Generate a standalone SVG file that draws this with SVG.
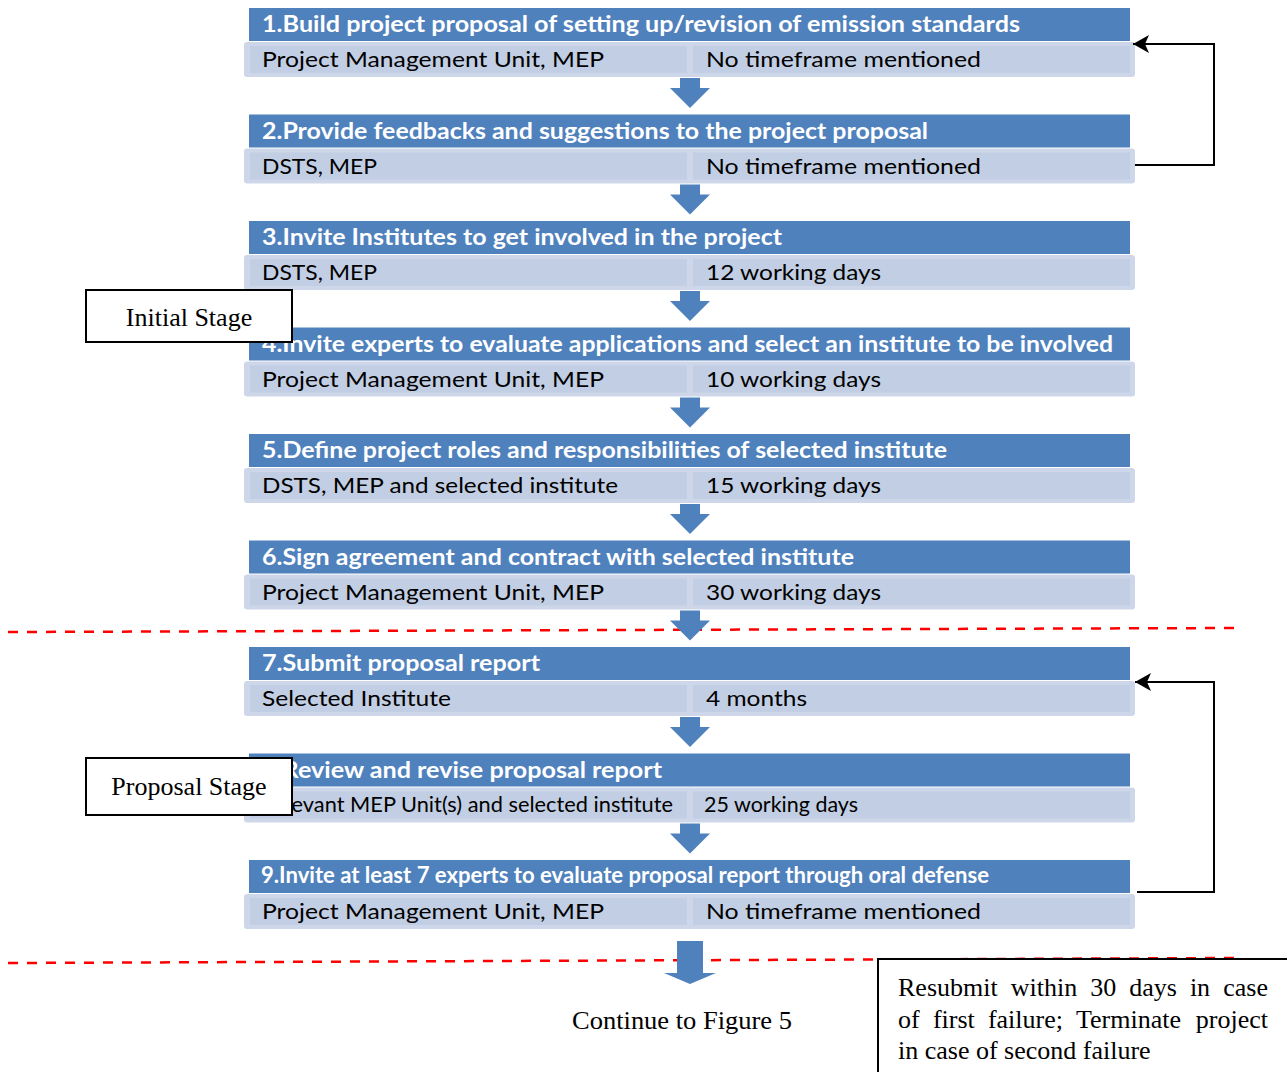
<svg xmlns="http://www.w3.org/2000/svg" width="1287" height="1072" viewBox="0 0 1287 1072">
<style>
.hd{fill:#4f81bd}
.bo{fill:#cdd7e9}
.bi{fill:#c2cee3}
.ht{font-family:Lato,"Open Sans","Liberation Sans",sans-serif;font-weight:bold;font-size:22px;fill:#ffffff}
.bt{font-family:Lato,"Open Sans","Liberation Sans",sans-serif;font-size:22px;fill:#000000}
.ar{fill:#4f81bd}
.red{stroke:#ff0000;stroke-width:2.5;stroke-dasharray:10 9;fill:none}
.fb{stroke:#000;stroke-width:2;fill:none}
.lb{fill:#fff;stroke:#000;stroke-width:2}
.tm{font-family:"Liberation Serif","Times New Roman",serif;font-size:26px;fill:#000}
</style>
<defs>
<g id="blk">
<rect class="hd" x="249" y="0" width="881" height="33"/>
<rect class="bo" x="244" y="34" width="891" height="35" rx="3"/>
<rect class="bi" x="250" y="38" width="437" height="27"/>
<rect class="bi" x="693" y="38" width="437" height="27"/>
</g>
<marker id="ah" viewBox="0 0 16 18" refX="16" refY="9" markerWidth="16" markerHeight="18" markerUnits="userSpaceOnUse" orient="auto">
<path d="M0,0 L16,9 L0,18 L4,9 Z" fill="#000"/>
</marker>
</defs>

<g id="dividers">
<line class="red" x1="8" y1="632" x2="1235" y2="628"/>
<line class="red" x1="8" y1="963" x2="1235" y2="958"/>
</g>

<g id="node1" transform="translate(0,8)">
<use href="#blk"/>
<text class="ht" x="262" y="24" textLength="758" lengthAdjust="spacingAndGlyphs">1.Build project proposal of setting up/revision of emission standards</text>
<text class="bt" x="262" y="59" textLength="342" lengthAdjust="spacingAndGlyphs">Project Management Unit, MEP</text>
<text class="bt" x="706" y="59" textLength="275" lengthAdjust="spacingAndGlyphs">No timeframe mentioned</text>
</g>
<g id="node2" transform="translate(0,114.5)">
<use href="#blk"/>
<text class="ht" x="262" y="24" textLength="666" lengthAdjust="spacingAndGlyphs">2.Provide feedbacks and suggestions to the project proposal</text>
<text class="bt" x="262" y="59" textLength="115" lengthAdjust="spacingAndGlyphs">DSTS, MEP</text>
<text class="bt" x="706" y="59" textLength="275" lengthAdjust="spacingAndGlyphs">No timeframe mentioned</text>
</g>
<g id="node3" transform="translate(0,221)">
<use href="#blk"/>
<text class="ht" x="262" y="24" textLength="520" lengthAdjust="spacingAndGlyphs">3.Invite Institutes to get involved in the project</text>
<text class="bt" x="262" y="59" textLength="115" lengthAdjust="spacingAndGlyphs">DSTS, MEP</text>
<text class="bt" x="706" y="59" textLength="175" lengthAdjust="spacingAndGlyphs">12 working days</text>
</g>
<g id="node4" transform="translate(0,327.5)">
<use href="#blk"/>
<text class="ht" x="262" y="24" textLength="851" lengthAdjust="spacingAndGlyphs">4.Invite experts to evaluate applications and select an institute to be involved</text>
<text class="bt" x="262" y="59" textLength="342" lengthAdjust="spacingAndGlyphs">Project Management Unit, MEP</text>
<text class="bt" x="706" y="59" textLength="175" lengthAdjust="spacingAndGlyphs">10 working days</text>
</g>
<g id="node5" transform="translate(0,434)">
<use href="#blk"/>
<text class="ht" x="262" y="24" textLength="685" lengthAdjust="spacingAndGlyphs">5.Define project roles and responsibilities of selected institute</text>
<text class="bt" x="262" y="59" textLength="356" lengthAdjust="spacingAndGlyphs">DSTS, MEP and selected institute</text>
<text class="bt" x="706" y="59" textLength="175" lengthAdjust="spacingAndGlyphs">15 working days</text>
</g>
<g id="node6" transform="translate(0,540.5)">
<use href="#blk"/>
<text class="ht" x="262" y="24" textLength="592" lengthAdjust="spacingAndGlyphs">6.Sign agreement and contract with selected institute</text>
<text class="bt" x="262" y="59" textLength="342" lengthAdjust="spacingAndGlyphs">Project Management Unit, MEP</text>
<text class="bt" x="706" y="59" textLength="175" lengthAdjust="spacingAndGlyphs">30 working days</text>
</g>
<g id="node7" transform="translate(0,647)">
<use href="#blk"/>
<text class="ht" x="262" y="24" textLength="278" lengthAdjust="spacingAndGlyphs">7.Submit proposal report</text>
<text class="bt" x="262" y="59" textLength="189" lengthAdjust="spacingAndGlyphs">Selected Institute</text>
<text class="bt" x="706" y="59" textLength="101" lengthAdjust="spacingAndGlyphs">4 months</text>
</g>
<g id="node8" transform="translate(0,753.5)">
<use href="#blk"/>
<text class="ht" x="262" y="24" textLength="400" lengthAdjust="spacingAndGlyphs">8.Review and revise proposal report</text>
<text class="bt" x="262" y="58" font-size="19" textLength="411" lengthAdjust="spacingAndGlyphs">Relevant MEP Unit(s) and selected institute</text>
<text class="bt" x="704" y="58" font-size="19" textLength="154" lengthAdjust="spacingAndGlyphs">25 working days</text>
</g>
<g id="node9" transform="translate(0,860)">
<use href="#blk"/>
<text class="ht" x="261" y="23" font-size="19" textLength="728" lengthAdjust="spacingAndGlyphs">9.Invite at least 7 experts to evaluate proposal report through oral defense</text>
<text class="bt" x="262" y="59" textLength="342" lengthAdjust="spacingAndGlyphs">Project Management Unit, MEP</text>
<text class="bt" x="706" y="59" textLength="275" lengthAdjust="spacingAndGlyphs">No timeframe mentioned</text>
</g>

<g id="connectors">
<g id="flow-arrows">
<path class="ar" d="M680,78 H700 V88 H710 L690,108 L670,88 H680 Z"/>
<path class="ar" d="M680,184.5 H700 V194.5 H710 L690,214.5 L670,194.5 H680 Z"/>
<path class="ar" d="M680,291 H700 V301 H710 L690,321 L670,301 H680 Z"/>
<path class="ar" d="M680,397.5 H700 V407.5 H710 L690,427.5 L670,407.5 H680 Z"/>
<path class="ar" d="M680,504 H700 V514 H710 L690,534 L670,514 H680 Z"/>
<path class="ar" d="M680,610.5 H700 V620.5 H710 L690,640.5 L670,620.5 H680 Z"/>
<path class="ar" d="M680,717 H700 V727 H710 L690,747 L670,727 H680 Z"/>
<path class="ar" d="M680,823.5 H700 V833.5 H710 L690,853.5 L670,833.5 H680 Z"/>
<path class="ar" d="M677,941 H703 V973 H716 L690,984 L664,973 H677 Z"/>
</g>
<path class="fb" d="M1135,165 H1214 V44 H1133" marker-end="url(#ah)"/>
<path class="fb" d="M1137,892 H1214 V682 H1135" marker-end="url(#ah)"/>
</g>

<g id="label-initial">
<rect class="lb" x="86" y="290" width="206" height="52"/>
<text class="tm" x="189" y="326" text-anchor="middle">Initial Stage</text>
</g>
<g id="label-proposal">
<rect class="lb" x="86" y="758" width="206" height="57"/>
<text class="tm" x="189" y="795" text-anchor="middle">Proposal Stage</text>
</g>
<g id="continue">
<text class="tm" x="572" y="1029" textLength="220" lengthAdjust="spacingAndGlyphs">Continue to Figure 5</text>
</g>
<g id="note">
<path d="M878,1073 V959 H1290" fill="#fff" stroke="#000" stroke-width="2"/>
<text class="tm" y="996"><tspan x="898">Resubmit</tspan><tspan x="1010.7">within</tspan><tspan x="1090.2">30</tspan><tspan x="1129.2">days</tspan><tspan x="1189.9">in</tspan><tspan x="1268" text-anchor="end">case</tspan></text>
<text class="tm" y="1028"><tspan x="898">of</tspan><tspan x="932.9">first</tspan><tspan x="987.9">failure;</tspan><tspan x="1076">Terminate</tspan><tspan x="1268" text-anchor="end">project</tspan></text>
<text class="tm" x="898" y="1059">in case of second failure</text>
</g>
</svg>
